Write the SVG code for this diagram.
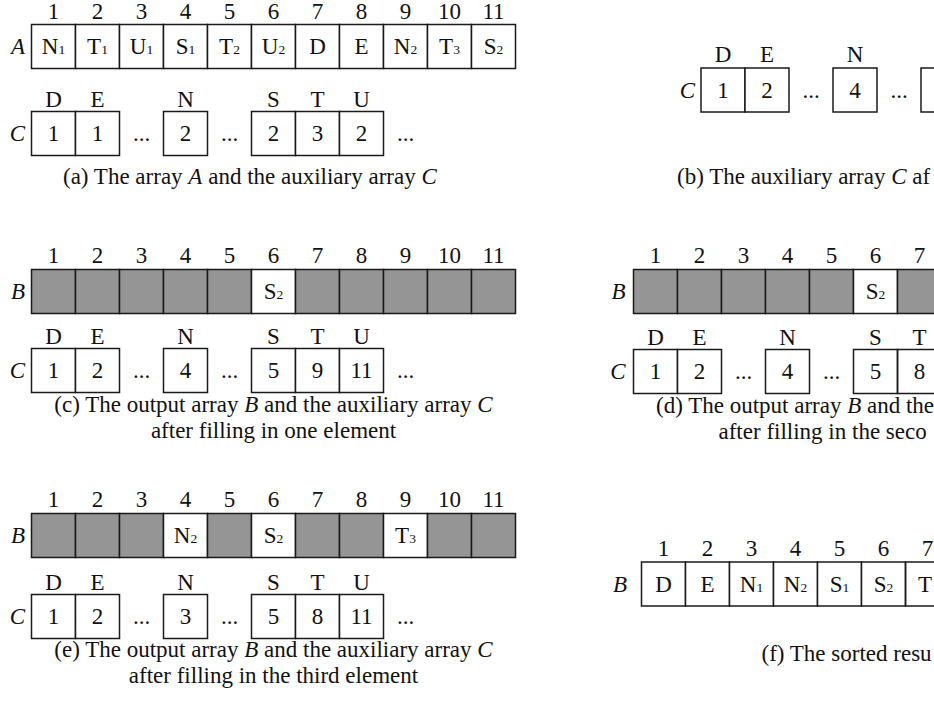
<svg xmlns="http://www.w3.org/2000/svg" width="934" height="702" viewBox="0 0 934 702">
  <style>
    .bg { fill: #ffffff; }
    .cell { fill: #ffffff; stroke: #1a1a1a; stroke-width: 1.5; }
    .gray { fill: #959595; stroke: #1a1a1a; stroke-width: 1.5; }
    .open { fill: none; stroke: #1a1a1a; stroke-width: 1.5; }
    text { font-family: "Liberation Serif", "Times New Roman", serif; font-size: 23px; fill: #111111; }
    .c { text-anchor: middle; }
    .mid { text-anchor: middle; }
    .lab { font-style: italic; text-anchor: end; }
    .sub { font-size: 13.5px; }
    .it { font-style: italic; }
  </style>
  <rect class="bg" x="0" y="0" width="934" height="702"/>

  <!-- (a) array A and auxiliary array C -->
  <g id="panel-a">
    <g id="a-index">
      <text class="c" x="53.5" y="19">1</text><text class="c" x="97.5" y="19">2</text><text class="c" x="141.5" y="19">3</text><text class="c" x="185.5" y="19">4</text><text class="c" x="229.5" y="19">5</text><text class="c" x="273.5" y="19">6</text><text class="c" x="317.5" y="19">7</text><text class="c" x="361.5" y="19">8</text><text class="c" x="405.5" y="19">9</text><text class="c" x="449.5" y="19">10</text><text class="c" x="493.5" y="19">11</text>
    </g>
    <text class="lab" x="25" y="54">A</text>
    <g id="a-A">
      <rect class="cell" x="31.5" y="24.5" width="44" height="44"/><rect class="cell" x="75.5" y="24.5" width="44" height="44"/><rect class="cell" x="119.5" y="24.5" width="44" height="44"/><rect class="cell" x="163.5" y="24.5" width="44" height="44"/><rect class="cell" x="207.5" y="24.5" width="44" height="44"/><rect class="cell" x="251.5" y="24.5" width="44" height="44"/><rect class="cell" x="295.5" y="24.5" width="44" height="44"/><rect class="cell" x="339.5" y="24.5" width="44" height="44"/><rect class="cell" x="383.5" y="24.5" width="44" height="44"/><rect class="cell" x="427.5" y="24.5" width="44" height="44"/><rect class="cell" x="471.5" y="24.5" width="44" height="44"/>
      <text class="c" x="53.5" y="54">N<tspan class="sub">1</tspan></text>
      <text class="c" x="97.5" y="54">T<tspan class="sub">1</tspan></text>
      <text class="c" x="141.5" y="54">U<tspan class="sub">1</tspan></text>
      <text class="c" x="185.5" y="54">S<tspan class="sub">1</tspan></text>
      <text class="c" x="229.5" y="54">T<tspan class="sub">2</tspan></text>
      <text class="c" x="273.5" y="54">U<tspan class="sub">2</tspan></text>
      <text class="c" x="317.5" y="54">D</text>
      <text class="c" x="361.5" y="54">E</text>
      <text class="c" x="405.5" y="54">N<tspan class="sub">2</tspan></text>
      <text class="c" x="449.5" y="54">T<tspan class="sub">3</tspan></text>
      <text class="c" x="493.5" y="54">S<tspan class="sub">2</tspan></text>
    </g>
    <g id="a-C">
      <text class="c" x="53.5" y="107">D</text><text class="c" x="97.5" y="107">E</text><text class="c" x="185.5" y="107">N</text><text class="c" x="273.5" y="107">S</text><text class="c" x="317.5" y="107">T</text><text class="c" x="361.5" y="107">U</text>
      <text class="lab" x="25" y="141">C</text>
      <rect class="cell" x="31.5" y="111.5" width="44" height="44"/><rect class="cell" x="75.5" y="111.5" width="44" height="44"/><rect class="cell" x="163.5" y="111.5" width="44" height="44"/><rect class="cell" x="251.5" y="111.5" width="44" height="44"/><rect class="cell" x="295.5" y="111.5" width="44" height="44"/><rect class="cell" x="339.5" y="111.5" width="44" height="44"/>
      <text class="c" x="53.5" y="141">1</text><text class="c" x="97.5" y="141">1</text><text class="c" x="141.5" y="141">...</text><text class="c" x="185.5" y="141">2</text><text class="c" x="229.5" y="141">...</text><text class="c" x="273.5" y="141">2</text><text class="c" x="317.5" y="141">3</text><text class="c" x="361.5" y="141">2</text><text class="c" x="405.5" y="141">...</text>
    </g>
    <text x="63" y="184">(a) The array <tspan class="it">A</tspan> and the auxiliary array <tspan class="it">C</tspan></text>
  </g>

  <!-- (b) auxiliary array C after counting -->
  <g id="panel-b">
    <text class="c" x="723" y="62">D</text><text class="c" x="767" y="62">E</text><text class="c" x="855" y="62">N</text>
    <text class="lab" x="695" y="97.5">C</text>
    <rect class="cell" x="701" y="68" width="44" height="44"/><rect class="cell" x="745" y="68" width="44" height="44"/><rect class="cell" x="833" y="68" width="44" height="44"/>
    <path class="open" d="M936,68 H921 V112 H936"/>
    <text class="c" x="723" y="97.5">1</text><text class="c" x="767" y="97.5">2</text><text class="c" x="811" y="97.5">...</text><text class="c" x="855" y="97.5">4</text><text class="c" x="899" y="97.5">...</text>
    <text x="677" y="184">(b) The auxiliary array <tspan class="it">C</tspan> af</text>
  </g>

  <!-- (c) output array B after one element -->
  <g id="panel-c">
    <g id="c-index">
      <text class="c" x="53.5" y="263">1</text><text class="c" x="97.5" y="263">2</text><text class="c" x="141.5" y="263">3</text><text class="c" x="185.5" y="263">4</text><text class="c" x="229.5" y="263">5</text><text class="c" x="273.5" y="263">6</text><text class="c" x="317.5" y="263">7</text><text class="c" x="361.5" y="263">8</text><text class="c" x="405.5" y="263">9</text><text class="c" x="449.5" y="263">10</text><text class="c" x="493.5" y="263">11</text>
    </g>
    <text class="lab" x="25" y="299">B</text>
    <g id="c-B">
      <rect class="gray" x="31.5" y="269.5" width="44" height="44"/><rect class="gray" x="75.5" y="269.5" width="44" height="44"/><rect class="gray" x="119.5" y="269.5" width="44" height="44"/><rect class="gray" x="163.5" y="269.5" width="44" height="44"/><rect class="gray" x="207.5" y="269.5" width="44" height="44"/><rect class="cell" x="251.5" y="269.5" width="44" height="44"/><rect class="gray" x="295.5" y="269.5" width="44" height="44"/><rect class="gray" x="339.5" y="269.5" width="44" height="44"/><rect class="gray" x="383.5" y="269.5" width="44" height="44"/><rect class="gray" x="427.5" y="269.5" width="44" height="44"/><rect class="gray" x="471.5" y="269.5" width="44" height="44"/>
      <text class="c" x="273.5" y="299">S<tspan class="sub">2</tspan></text>
    </g>
    <g id="c-C">
      <text class="c" x="53.5" y="344">D</text><text class="c" x="97.5" y="344">E</text><text class="c" x="185.5" y="344">N</text><text class="c" x="273.5" y="344">S</text><text class="c" x="317.5" y="344">T</text><text class="c" x="361.5" y="344">U</text>
      <text class="lab" x="25" y="378">C</text>
      <rect class="cell" x="31.5" y="348.5" width="44" height="44"/><rect class="cell" x="75.5" y="348.5" width="44" height="44"/><rect class="cell" x="163.5" y="348.5" width="44" height="44"/><rect class="cell" x="251.5" y="348.5" width="44" height="44"/><rect class="cell" x="295.5" y="348.5" width="44" height="44"/><rect class="cell" x="339.5" y="348.5" width="44" height="44"/>
      <text class="c" x="53.5" y="378">1</text><text class="c" x="97.5" y="378">2</text><text class="c" x="141.5" y="378">...</text><text class="c" x="185.5" y="378">4</text><text class="c" x="229.5" y="378">...</text><text class="c" x="273.5" y="378">5</text><text class="c" x="317.5" y="378">9</text><text class="c" x="361.5" y="378">11</text><text class="c" x="405.5" y="378">...</text>
    </g>
    <text class="mid" x="273.5" y="412">(c) The output array <tspan class="it">B</tspan> and the auxiliary array <tspan class="it">C</tspan></text>
    <text class="mid" x="273.5" y="438">after filling in one element</text>
  </g>

  <!-- (d) output array B after the second element -->
  <g id="panel-d">
    <g id="d-index">
      <text class="c" x="655.5" y="263">1</text><text class="c" x="699.5" y="263">2</text><text class="c" x="743.5" y="263">3</text><text class="c" x="787.5" y="263">4</text><text class="c" x="831.5" y="263">5</text><text class="c" x="875.5" y="263">6</text><text class="c" x="919.5" y="263">7</text>
    </g>
    <text class="lab" x="625.5" y="299">B</text>
    <g id="d-B">
      <rect class="gray" x="633.5" y="269.5" width="44" height="44"/><rect class="gray" x="677.5" y="269.5" width="44" height="44"/><rect class="gray" x="721.5" y="269.5" width="44" height="44"/><rect class="gray" x="765.5" y="269.5" width="44" height="44"/><rect class="gray" x="809.5" y="269.5" width="44" height="44"/><rect class="cell" x="853.5" y="269.5" width="44" height="44"/>
      <rect x="897.5" y="269.5" width="40" height="44" fill="#959595"/>
      <path class="open" d="M937,269.5 H897.5 V313.5 H937"/>
      <text class="c" x="875.5" y="299">S<tspan class="sub">2</tspan></text>
    </g>
    <g id="d-C">
      <text class="c" x="655.5" y="345">D</text><text class="c" x="699.5" y="345">E</text><text class="c" x="787.5" y="345">N</text><text class="c" x="875.5" y="345">S</text><text class="c" x="919.5" y="345">T</text>
      <text class="lab" x="625.5" y="379">C</text>
      <rect class="cell" x="633.5" y="349.5" width="44" height="44"/><rect class="cell" x="677.5" y="349.5" width="44" height="44"/><rect class="cell" x="765.5" y="349.5" width="44" height="44"/><rect class="cell" x="853.5" y="349.5" width="44" height="44"/>
      <path class="open" d="M937,349.5 H897.5 V393.5 H937"/>
      <text class="c" x="655.5" y="379">1</text><text class="c" x="699.5" y="379">2</text><text class="c" x="743.5" y="379">...</text><text class="c" x="787.5" y="379">4</text><text class="c" x="831.5" y="379">...</text><text class="c" x="875.5" y="379">5</text><text class="c" x="919.5" y="379">8</text>
    </g>
    <text x="656" y="413">(d) The output array <tspan class="it">B</tspan> and the</text>
    <text x="718.5" y="439">after filling in the seco</text>
  </g>

  <!-- (e) output array B after the third element -->
  <g id="panel-e">
    <g id="e-index">
      <text class="c" x="53.5" y="507">1</text><text class="c" x="97.5" y="507">2</text><text class="c" x="141.5" y="507">3</text><text class="c" x="185.5" y="507">4</text><text class="c" x="229.5" y="507">5</text><text class="c" x="273.5" y="507">6</text><text class="c" x="317.5" y="507">7</text><text class="c" x="361.5" y="507">8</text><text class="c" x="405.5" y="507">9</text><text class="c" x="449.5" y="507">10</text><text class="c" x="493.5" y="507">11</text>
    </g>
    <text class="lab" x="25" y="543">B</text>
    <g id="e-B">
      <rect class="gray" x="31.5" y="513.5" width="44" height="44"/><rect class="gray" x="75.5" y="513.5" width="44" height="44"/><rect class="gray" x="119.5" y="513.5" width="44" height="44"/><rect class="cell" x="163.5" y="513.5" width="44" height="44"/><rect class="gray" x="207.5" y="513.5" width="44" height="44"/><rect class="cell" x="251.5" y="513.5" width="44" height="44"/><rect class="gray" x="295.5" y="513.5" width="44" height="44"/><rect class="gray" x="339.5" y="513.5" width="44" height="44"/><rect class="cell" x="383.5" y="513.5" width="44" height="44"/><rect class="gray" x="427.5" y="513.5" width="44" height="44"/><rect class="gray" x="471.5" y="513.5" width="44" height="44"/>
      <text class="c" x="185.5" y="543">N<tspan class="sub">2</tspan></text>
      <text class="c" x="273.5" y="543">S<tspan class="sub">2</tspan></text>
      <text class="c" x="405.5" y="543">T<tspan class="sub">3</tspan></text>
    </g>
    <g id="e-C">
      <text class="c" x="53.5" y="590">D</text><text class="c" x="97.5" y="590">E</text><text class="c" x="185.5" y="590">N</text><text class="c" x="273.5" y="590">S</text><text class="c" x="317.5" y="590">T</text><text class="c" x="361.5" y="590">U</text>
      <text class="lab" x="25" y="624">C</text>
      <rect class="cell" x="31.5" y="594.5" width="44" height="44"/><rect class="cell" x="75.5" y="594.5" width="44" height="44"/><rect class="cell" x="163.5" y="594.5" width="44" height="44"/><rect class="cell" x="251.5" y="594.5" width="44" height="44"/><rect class="cell" x="295.5" y="594.5" width="44" height="44"/><rect class="cell" x="339.5" y="594.5" width="44" height="44"/>
      <text class="c" x="53.5" y="624">1</text><text class="c" x="97.5" y="624">2</text><text class="c" x="141.5" y="624">...</text><text class="c" x="185.5" y="624">3</text><text class="c" x="229.5" y="624">...</text><text class="c" x="273.5" y="624">5</text><text class="c" x="317.5" y="624">8</text><text class="c" x="361.5" y="624">11</text><text class="c" x="405.5" y="624">...</text>
    </g>
    <text class="mid" x="273.5" y="657">(e) The output array <tspan class="it">B</tspan> and the auxiliary array <tspan class="it">C</tspan></text>
    <text class="mid" x="273.5" y="683">after filling in the third element</text>
  </g>

  <!-- (f) sorted result -->
  <g id="panel-f">
    <g id="f-index">
      <text class="c" x="663.5" y="556">1</text><text class="c" x="707.5" y="556">2</text><text class="c" x="751.5" y="556">3</text><text class="c" x="795.5" y="556">4</text><text class="c" x="839.5" y="556">5</text><text class="c" x="883.5" y="556">6</text><text class="c" x="927.5" y="556">7</text>
    </g>
    <text class="lab" x="627" y="592">B</text>
    <g id="f-B">
      <rect class="cell" x="641.5" y="562" width="44" height="44"/><rect class="cell" x="685.5" y="562" width="44" height="44"/><rect class="cell" x="729.5" y="562" width="44" height="44"/><rect class="cell" x="773.5" y="562" width="44" height="44"/><rect class="cell" x="817.5" y="562" width="44" height="44"/><rect class="cell" x="861.5" y="562" width="44" height="44"/>
      <path class="open" d="M937,562 H905.5 V606 H937"/>
      <text class="c" x="663.5" y="592">D</text>
      <text class="c" x="707.5" y="592">E</text>
      <text class="c" x="751.5" y="592">N<tspan class="sub">1</tspan></text>
      <text class="c" x="795.5" y="592">N<tspan class="sub">2</tspan></text>
      <text class="c" x="839.5" y="592">S<tspan class="sub">1</tspan></text>
      <text class="c" x="883.5" y="592">S<tspan class="sub">2</tspan></text>
      <text x="918" y="592">T</text>
    </g>
    <text x="761.5" y="661">(f) The sorted resu</text>
  </g>
</svg>
